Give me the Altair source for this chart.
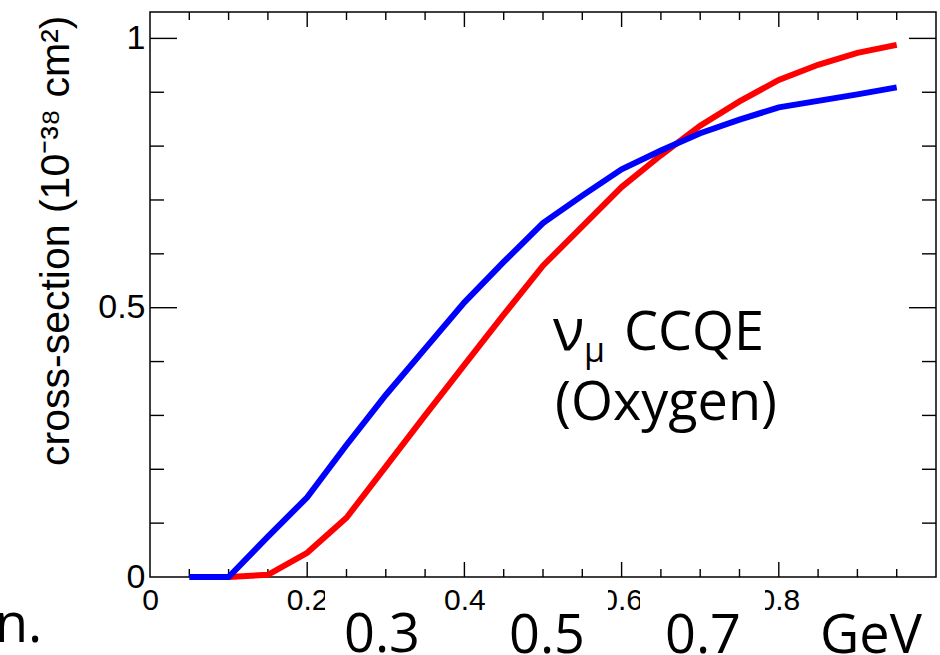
import altair as alt
import pandas as pd

# Neutrino energy grid (GeV) and CCQE cross-sections on oxygen (1e-38 cm^2)
energy_blue = [0.05, 0.10, 0.15, 0.20, 0.25, 0.30, 0.35, 0.40, 0.45, 0.50,
               0.55, 0.60, 0.65, 0.70, 0.75, 0.80, 0.85, 0.90, 0.95]
xsec_blue = [0.0, 0.0, 0.075, 0.148, 0.245, 0.338, 0.424, 0.510, 0.585, 0.657,
             0.708, 0.757, 0.792, 0.824, 0.849, 0.872, 0.884, 0.896, 0.909]

energy_red = [0.10, 0.15, 0.20, 0.25, 0.30, 0.35, 0.40, 0.45, 0.50,
              0.55, 0.60, 0.65, 0.70, 0.75, 0.80, 0.85, 0.90, 0.95]
xsec_red = [0.0, 0.004, 0.045, 0.110, 0.205, 0.300, 0.394, 0.487, 0.578,
            0.651, 0.724, 0.783, 0.838, 0.883, 0.923, 0.951, 0.973, 0.988]

# Axis tick positions and labels
x_label_values = [0, 0.2, 0.4, 0.6, 0.8]
x_major_ticks = [0.2, 0.4, 0.6, 0.8]
x_minor_ticks = [0.05, 0.10, 0.15, 0.25, 0.30, 0.35, 0.45, 0.50, 0.55,
                 0.65, 0.70, 0.75, 0.85, 0.90, 0.95]
y_label_values = [0, 0.5, 1]
y_major_ticks = [0.5, 1.0]
y_minor_ticks = [0.1, 0.2, 0.3, 0.4, 0.6, 0.7, 0.8, 0.9]

# Slide annotations below the frame
energy_marks = ["0.3", "0.5", "0.7"]
unit_label = "GeV"

W, H = 786, 565
MAJOR_X, MINOR_X = 15, 8
MAJOR_Y, MINOR_Y = 27, 14

x_scale = alt.Scale(domain=[0, 1], nice=False)
y_scale = alt.Scale(domain=[0, 1.049], nice=False)

x_axis = alt.Axis(values=x_label_values, format="~g", ticks=False, tickSize=0,
                  domain=False, grid=False, labelFont="Liberation Sans",
                  labelFontSize=30, labelColor="black", labelPadding=8,
                  labelFlush=False, labelOverlap=False, title=None)
y_axis = alt.Axis(values=y_label_values, format="~g", ticks=False, tickSize=0,
                  domain=False, grid=False, labelFont="Liberation Sans",
                  labelFontSize=34, labelColor="black", labelPadding=5,
                  labelFlush=False, labelOverlap=False,
                  title="cross-section (10\u207b\u00b3\u2078 cm\u00b2)",
                  titleFont="Liberation Sans", titleFontSize=41,
                  titleFontWeight="normal", titleColor="black",
                  titleAngle=270, titleX=-82, titleY=3,
                  titleAlign="right", titleBaseline="alphabetic")


def X(field):
    return alt.X(field, type="quantitative", scale=x_scale, axis=x_axis)


def Y(field):
    return alt.Y(field, type="quantitative", scale=y_scale, axis=y_axis)


blue_df = pd.DataFrame({"E": energy_blue, "xs": xsec_blue})
red_df = pd.DataFrame({"E": energy_red, "xs": xsec_red})

red_line = alt.Chart(red_df).mark_line(color="#ff0000", strokeWidth=6).encode(
    x=X("E"), y=Y("xs"), order="E:Q",
)
blue_line = alt.Chart(blue_df).mark_line(color="#0000ff", strokeWidth=6).encode(
    x=X("E"), y=Y("xs"), order="E:Q",
)


def x_ticks(values, length):
    df = pd.DataFrame({"t": values})
    base = alt.Chart(df).mark_rule(color="black", strokeWidth=1.4)
    bottom = base.encode(x=X("t"), y=alt.value(H), y2=alt.value(H - length))
    top = base.encode(x=X("t"), y=alt.value(0), y2=alt.value(length))
    return [bottom, top]


def y_ticks(values, length):
    df = pd.DataFrame({"t": values})
    base = alt.Chart(df).mark_rule(color="black", strokeWidth=1.4)
    left = base.encode(y=Y("t"), x=alt.value(0), x2=alt.value(length))
    right = base.encode(y=Y("t"), x=alt.value(W), x2=alt.value(W - length))
    return [left, right]


tick_layers = (x_ticks(x_major_ticks, MAJOR_X) + x_ticks(x_minor_ticks, MINOR_X)
               + y_ticks(y_major_ticks, MAJOR_Y) + y_ticks(y_minor_ticks, MINOR_Y))

# White text boxes of the slide annotations that sit over the tick labels
mask_df = pd.DataFrame({"x0": [175, 340, 490], "x1": [290, 458, 615]})
masks = alt.Chart(mask_df).mark_rect(color="white", clip=False).encode(
    x=alt.X("x0:Q", scale=None), x2="x1:Q",
    y=alt.value(568), y2=alt.value(643),
)

slide_font = "Open Sans"


def label(text, x, y, size=54, align="left"):
    return alt.Chart(pd.DataFrame({"s": [text]})).mark_text(
        font=slide_font, fontSize=size, align=align, baseline="alphabetic",
        color="black", clip=False,
    ).encode(text="s:N", x=alt.value(x), y=alt.value(y))


annotations = [
    label("\u03bd", 403, 338, size=58),
    label("\u03bc", 434, 350, size=34),
    label("CCQE", 474, 338),
    label("(Oxygen)", 405, 408),
    label("n.", -155, 630),
    label(energy_marks[0], 232, 640, align="center"),
    label(energy_marks[1], 397, 641, align="center"),
    label(energy_marks[2], 553, 641, align="center"),
    label(unit_label, 721, 641, align="center"),
]

chart = alt.layer(
    *tick_layers, red_line, blue_line, masks, *annotations
).properties(
    width=W, height=H,
    padding={"left": 150, "top": 12, "right": 4, "bottom": 78},
    autosize=alt.AutoSizeParams(type="none"),
    background="white",
).configure_view(stroke="black", strokeWidth=1.5)

chart.save("out.html", embed_options={"renderer": "svg", "actions": False})
